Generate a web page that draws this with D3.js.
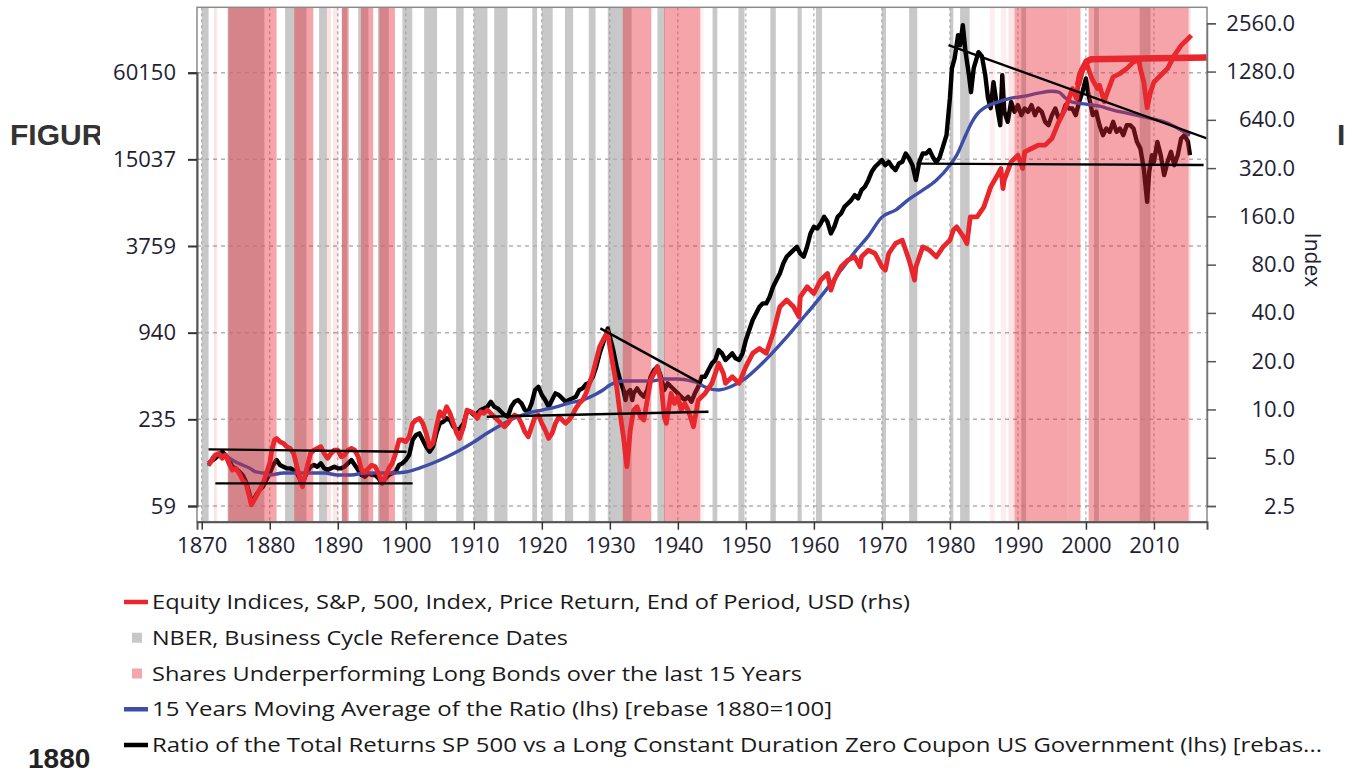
<!DOCTYPE html>
<html><head><meta charset="utf-8">
<script src="https://cdn.jsdelivr.net/npm/d3@7"></script>
<style>body{margin:0;background:#fff;overflow:hidden}</style>
</head><body><svg id="c" width="1360" height="776"></svg>
<script>
// ---------------- DATA ----------------
const decadeTicks = [1870,1880,1890,1900,1910,1920,1930,1940,1950,1960,1970,1980,1990,2000,2010];
const leftTicks = [58.74,234.96,939.8,3759.4,15037.5,60150];
const leftTickLabels = ["59","235","940","3759","15037","60150"];
const rightTicks = [2.5,5,10,20,40,80,160,320,640,1280,2560];
const rightTickLabels = ["2.5","5.0","10.0","20.0","40.0","80.0","160.0","320.0","640.0","1280.0","2560.0"];

// NBER recessions (start, end)
const nberBands = [[1870.0,1871.0],[1873.8,1879.2],[1882.25,1885.4],[1887.25,1888.4],[1890.6,1891.4],[1893.0,1894.5],[1895.9,1897.5],[1899.5,1900.95],[1902.7,1904.6],[1907.4,1908.5],[1910.0,1912.0],[1913.0,1914.95],[1918.6,1919.3],[1920.0,1921.6],[1923.4,1924.6],[1926.9,1927.9],[1929.7,1933.2],[1937.0,1938.1],[1945.1,1945.8],[1948.9,1949.8],[1953.6,1954.4],[1957.6,1958.2],[1960.3,1961.2],[1970.0,1970.6],[1974.0,1975.2],[1980.0,1980.5],[1981.5,1982.9],[1990.5,1991.2],[2001.2,2001.9],[2007.9,2009.5]];

// Shares underperforming long bonds (start, end, strength)
const pinkBands = [[1871.8,1872.2,0.3],[1873.9,1881.0,1],[1883.6,1886.4,1],[1888.4,1889.0,0.3],[1889.3,1890.1,0.25],[1890.6,1891.6,1],[1893.4,1895.2,1],[1896.1,1898.4,1],[1931.9,1936.1,1],[1938.0,1943.3,1],[1943.3,1943.8,0.15],[1985.9,1986.6,0.2],[1987.5,1988.3,0.2],[1988.6,1989.5,0.3],[1989.5,1997.3,1],[1997.3,1999.2,0.95],[2000.4,2015.1,1],[2015.1,2015.4,0.3]];

// S&P 500 price index (rhs)
const sp500 = [[1871,4.50],[1871.5,4.84],[1872,5.20],[1872.5,5.32],[1873,4.96],[1873.5,5.20],[1874,4.61],[1874.5,4.19],[1875,4.29],[1875.5,4.00],[1876,3.63],[1876.5,3.46],[1877,2.86],[1877.3,2.54],[1877.7,2.72],[1878,2.86],[1878.5,3.15],[1879,3.46],[1879.5,4.00],[1880,4.61],[1880.3,5.58],[1880.7,6.45],[1881,6.60],[1881.5,6.29],[1882,6.15],[1882.5,5.86],[1883,5.72],[1883.5,5.32],[1884,4.40],[1884.5,3.63],[1884.8,3.30],[1885,3.63],[1885.5,4.40],[1886,5.32],[1886.5,5.58],[1887,5.72],[1887.5,5.86],[1888,5.32],[1888.5,4.96],[1889,5.32],[1889.5,5.58],[1890,5.58],[1890.5,5.07],[1891,5.20],[1891.5,5.58],[1892,5.72],[1892.5,5.58],[1893,5.07],[1893.5,4.19],[1894,4.09],[1894.5,4.29],[1895,4.50],[1895.5,4.40],[1896,4.00],[1896.5,3.46],[1897,3.81],[1897.5,4.29],[1898,4.61],[1898.5,5.32],[1899,6.45],[1899.5,6.45],[1900,6.29],[1900.5,6.76],[1901,8.19],[1901.5,8.59],[1902,8.80],[1902.5,8.19],[1903,7.09],[1903.5,5.86],[1904,6.15],[1904.5,7.81],[1905,9.68],[1905.5,9.01],[1906,10.40],[1906.5,9.45],[1907,8.19],[1907.5,7.09],[1907.9,6.60],[1908.5,7.81],[1909,9.91],[1909.5,9.68],[1910,9.45],[1910.5,8.80],[1911,9.68],[1911.5,9.45],[1912,9.91],[1912.5,9.45],[1913,9.01],[1913.5,8.59],[1914,8.19],[1914.5,7.81],[1915,8.19],[1915.5,8.80],[1916,9.23],[1916.5,9.01],[1917,8.19],[1917.5,7.26],[1918,6.76],[1918.5,7.81],[1919,9.01],[1919.5,9.23],[1920,8.19],[1920.5,7.44],[1921,6.60],[1921.5,7.09],[1922,8.19],[1922.5,9.01],[1923,8.59],[1923.5,8.19],[1924,8.59],[1924.5,9.23],[1925,10.16],[1925.5,10.91],[1926,11.44],[1926.5,12.59],[1927,14.54],[1927.5,16.78],[1928,20.3],[1928.5,24.6],[1929,27.1],[1929.7,30.5],[1930,24.6],[1930.5,18.5],[1931,13.9],[1931.5,9.45],[1932,6.76],[1932.5,4.40],[1932.7,5.32],[1933,7.44],[1933.5,9.91],[1934,10.40],[1934.5,9.01],[1935,8.59],[1935.5,11.44],[1936,15.2],[1936.5,16.78],[1937,18.5],[1937.5,15.2],[1938,9.01],[1938.3,8.19],[1939,12.59],[1939.5,10.91],[1940,12.0],[1940.5,9.91],[1941,10.91],[1941.5,9.91],[1942,8.59],[1942.3,7.81],[1943,11.44],[1943.5,12.0],[1944,12.59],[1945,14.54],[1945.5,16.78],[1946,19.4],[1946.7,16.78],[1947,14.54],[1948,16.0],[1949,14.54],[1950,18.5],[1951,22.4],[1952,24.0],[1953,22.4],[1954,29.8],[1955,43.7],[1956,48.1],[1957,43.7],[1957.8,37.9],[1958,50.4],[1959,58.2],[1960,52.9],[1961,64.1],[1962,70.5],[1962.5,55.5],[1963,64.1],[1964,77.6],[1965,85.3],[1966,89.5],[1966.8,77.6],[1967,89.5],[1968,98.5],[1969,93.9],[1970,77.6],[1970.5,73.9],[1971,93.9],[1972,108.4],[1973,113.7],[1974,85.3],[1974.8,64.1],[1975,77.6],[1976,103.3],[1977,98.5],[1978,89.5],[1979,103.3],[1980,113.7],[1980.5,131.3],[1981,137.7],[1982,119.3],[1982.5,108.4],[1983,159.0],[1984,159.0],[1985,183.5],[1986,244.4],[1987,290],[1987.5,318],[1987.8,238.7],[1988,270],[1989,350],[1990,385],[1990.7,318],[1991,404],[1992,424],[1993,445],[1994,445],[1995,489],[1996,621],[1997,753],[1998,1002],[1998.6,869],[1999,1214],[2000,1471],[2000.7,1214],[2001,1129],[2001.7,1002],[2002,1051],[2002.7,828],[2003,912],[2004,1186],[2005,1244],[2006,1336],[2007,1471],[2007.8,1506],[2008,1336],[2008.5,1103],[2009,760],[2009.5,956],[2010,1103],[2011,1214],[2012,1336],[2013,1617],[2014,1865],[2015,2052],[2015.5,2153]];

// S&P 500 previous-high plateau (rhs)
const sp500Plateau = [[1998.8,1050],[1999.4,1300],[2000.1,1480],[2000.8,1530],[2017.8,1565]];

// Ratio of total returns S&P 500 vs long zero coupon (lhs, 1880 = 100)
const ratio = [[1871,116.2],[1872,125.9],[1873,140.0],[1873.5,132.8],[1874,122.6],[1874.5,110.2],[1875,107.3],[1875.5,101.7],[1876,96.4],[1876.5,86.7],[1877,71.9],[1877.3,61.3],[1877.7,66.4],[1878,70.0],[1878.5,75.9],[1879,80.0],[1879.5,89.0],[1880,99.0],[1880.5,113.1],[1881,122.6],[1881.5,113.1],[1882,110.2],[1882.5,107.3],[1883,107.3],[1883.5,104.5],[1884,99.0],[1884.5,89.0],[1884.8,82.2],[1885,89.0],[1885.5,101.7],[1886,110.2],[1886.5,113.1],[1887,110.2],[1887.5,116.2],[1888,107.3],[1888.5,104.5],[1889,107.3],[1889.5,110.2],[1890,107.3],[1890.5,107.3],[1891,110.2],[1891.5,116.2],[1892,122.6],[1892.5,113.1],[1893,104.5],[1893.5,96.4],[1894,93.9],[1894.5,99.0],[1895,96.4],[1895.5,96.4],[1896,91.4],[1896.5,84.4],[1897,91.4],[1897.5,96.4],[1898,99.0],[1898.5,101.7],[1899,113.1],[1899.5,116.2],[1900,122.6],[1900.5,132.8],[1901,168.8],[1901.5,182.8],[1902,187.7],[1902.5,168.8],[1903,151.7],[1903.5,140.0],[1904,151.7],[1904.5,187.7],[1905,220.3],[1905.5,226.2],[1906,238.7],[1906.5,232.4],[1907,208.8],[1907.5,198.0],[1908,203.4],[1908.5,220.3],[1909,265.4],[1909.5,265.4],[1910,251.7],[1910.5,258.5],[1911,272.6],[1911.5,280.0],[1912,287.5],[1912.5,311.4],[1913,287.5],[1913.5,280.0],[1914,265.4],[1914.5,251.7],[1915,245.1],[1915.5,287.5],[1916,311.4],[1916.5,319.9],[1917,303.3],[1917.5,272.6],[1918,265.4],[1918.5,303.3],[1919,375.4],[1919.5,395.9],[1920,346.6],[1920.5,319.9],[1921,287.5],[1921.5,319.9],[1922,355.9],[1922.5,346.6],[1923,328.5],[1923.5,311.4],[1924,319.9],[1924.5,328.5],[1925,337.4],[1925.5,375.4],[1926,385.5],[1926.5,413.1],[1927,422.0],[1927.5,464.5],[1928,545.1],[1928.5,674.6],[1929,791.6],[1929.5,928.7],[1929.7,1006],[1930,880.5],[1930.5,711.5],[1931,545.1],[1931.5,440.4],[1932,375.4],[1932.3,319.9],[1932.5,355.9],[1933,375.4],[1933.3,319.9],[1933.5,355.9],[1934,385.5],[1934.5,355.9],[1935,337.4],[1935.5,375.4],[1936,464.5],[1936.5,516.8],[1937,545.1],[1937.5,464.5],[1938,375.4],[1938.5,417.6],[1939,395.9],[1939.5,375.4],[1940,355.9],[1940.5,337.4],[1941,319.9],[1941.5,337.4],[1942,311.4],[1942.5,355.9],[1943,395.9],[1943.5,464.5],[1944,464.5],[1944.5,516.8],[1945,575.0],[1945.5,606.4],[1946,711.5],[1946.5,674.6],[1947,606.4],[1947.5,639.6],[1948,674.6],[1948.5,622.8],[1949,606.4],[1949.5,674.6],[1950,834.9],[1950.5,979.7],[1951,1149.5],[1951.5,1278.9],[1952,1422.7],[1952.5,1500.6],[1953,1500.6],[1953.5,1669.5],[1954,1959],[1954.5,2179],[1955,2424],[1955.5,2845],[1956,3164],[1956.5,3338],[1957,3521],[1957.5,3713],[1958,3338],[1958.5,3164],[1959,3713],[1959.5,4595],[1960,5113],[1960.5,4979],[1961,5393],[1961.5,5999],[1962,5538],[1962.5,4595],[1963,5113],[1963.5,5999],[1964,6328],[1964.5,7039],[1965,7425],[1965.5,7831],[1966,8483],[1966.5,8043],[1967,9189],[1967.5,9692],[1968,10782],[1968.5,12318],[1969,13346],[1969.5,14074],[1970,14844],[1970.5,13704],[1971,14450],[1971.5,13346],[1972,12653],[1972.5,14074],[1973,14450],[1973.5,16512],[1974,15249],[1974.5,13704],[1975,10782],[1975.5,14450],[1976,16512],[1976.5,16512],[1977,17416],[1977.5,15574],[1978,14378],[1978.5,15574],[1979,18564],[1979.5,22139],[1980,40008],[1980.3,64627],[1980.7,75861],[1981.2,109568],[1981.5,93350],[1981.9,128604],[1982.3,83513],[1982.8,57782],[1983.1,44037],[1983.5,64627],[1984.2,83513],[1984.7,78324],[1985.2,57782],[1985.6,40008],[1986,34104],[1986.4,51662],[1986.9,35784],[1987.4,25974],[1987.7,57782],[1988,32160],[1988.5,27390],[1989,37711],[1989.5,32160],[1990,35784],[1990.5,30492],[1991,33940],[1991.5,32160],[1992,35784],[1992.5,30492],[1993,33940],[1993.5,32160],[1994,27390],[1994.5,25974],[1995,30492],[1995.5,33940],[1996,28918],[1996.5,30492],[1997,35784],[1997.5,33940],[1998,33940],[1998.5,30492],[1999,37711],[1999.5,44260],[2000,54822],[2000.3,44260],[2000.7,35784],[2001,30492],[2001.5,32160],[2002,25974],[2002.5,22139],[2003,24641],[2003.5,23343],[2004,27390],[2004.5,23343],[2005,24641],[2005.5,22139],[2006,25974],[2006.5,25974],[2007,24641],[2007.5,19889],[2008,17892],[2008.5,12999],[2009,7619],[2009.3,12312],[2009.7,16083],[2010,14444],[2010.5,19889],[2011,16083],[2011.5,11678],[2012,14444],[2012.5,16952],[2013,13704],[2013.5,16083],[2014,21000],[2014.5,22139],[2015,19889],[2015.3,16083]];

// 15-year moving average of the ratio (lhs)
const ratioMA = [[1871,111.4],[1872,132.8],[1873,132.8],[1874,126.5],[1875,118.7],[1876,113.1],[1877,107.8],[1878,101.2],[1879,99.6],[1880,96.4],[1882,99.6],[1884,99.6],[1886,99.6],[1888,99.6],[1890,96.4],[1892,96.4],[1894,99.6],[1896,99.6],[1898,99.6],[1900,101.2],[1902,107.8],[1904,116.8],[1906,128.6],[1908,143.8],[1910,163.4],[1912,188.7],[1914,214.5],[1916,239.9],[1918,259.9],[1920,272.6],[1922,286.0],[1924,304.9],[1926,319.9],[1928,352.1],[1929,375.4],[1930,406.7],[1931,426.6],[1932,433.4],[1934,433.4],[1936,433.4],[1938,447.5],[1940,447.5],[1942,433.4],[1943,419.8],[1944,393.7],[1946,375.4],[1948,400.1],[1950,454.8],[1952,551.0],[1954,689.2],[1956,875.9],[1958,1131],[1960,1461],[1962,1917],[1964,2557],[1966,3409],[1968,4404],[1970,5967],[1972,6673],[1974,7955],[1976,9189],[1978,10782],[1980,13704],[1981,16083],[1982,20442],[1983,25974],[1984,30979],[1985,34104],[1987,37523],[1989,40008],[1991,41296],[1993,43327],[1995,44731],[1996,44037],[1997,40008],[1998,37523],[2000,36342],[2002,35197],[2004,33030],[2006,31479],[2008,30004],[2010,28595],[2012,26815],[2014,23984],[2015.3,22139]];

// Hand-drawn trend lines (lhs)
const trendLines = [
  [[1871,145.4],[1900.1,140.0]],
  [[1872.0,84.4],[1901.0,84.4]],
  [[1911.9,245.1],[1944.5,265.4]],
  [[1928.6,1006],[1943.4,417.6]],
  [[1975.1,14040],[2017.3,13750]],
  [[1979.8,93350],[2017.8,21000]]
];

const legendItems = [
  {label:"Equity Indices, S&P, 500, Index, Price Return, End of Period, USD (rhs)", kind:"line", color:"#e8262b", w:758},
  {label:"NBER, Business Cycle Reference Dates", kind:"box", color:"#c8c8c8", w:416},
  {label:"Shares Underperforming Long Bonds over the last 15 Years", kind:"box", color:"#f5a6ad", w:650},
  {label:"15 Years Moving Average of the Ratio (lhs) [rebase 1880=100]", kind:"line", color:"#3c4ea8", w:680},
  {label:"Ratio of the Total Returns SP 500 vs a  Long Constant Duration Zero Coupon US Government (lhs) [rebas...", kind:"line", color:"#000000", w:1170}
];

// ---------------- DRAW ----------------
const svg = d3.select("#c");
const P = {l:197, r:1207, t:7.3, b:521.7};
const x = d3.scaleLinear().domain([1869.3, 2017.8]).range([P.l, P.r]);
const yL = d3.scaleLog().domain([58.74, 60150]).range([506, 72.67]);
const yR = d3.scaleLog().domain([2.5, 2560]).range([506, 23.3]);

// background document text (partially hidden behind chart image)
svg.append("text").attr("x",10).attr("y",145).attr("font-family","Liberation Sans, Arial, sans-serif")
  .attr("font-weight","bold").attr("font-size",30).attr("fill","#333").text("FIGURE");
svg.append("rect").attr("x",100).attr("y",0).attr("width",1236).attr("height",776).attr("fill","#fff");
svg.append("text").attr("x",1337).attr("y",145).attr("font-family","Liberation Sans, Arial, sans-serif")
  .attr("font-weight","bold").attr("font-size",30).attr("fill","#333").text("I");
svg.append("text").attr("x",28).attr("y",768).attr("font-family","Liberation Sans, Arial, sans-serif")
  .attr("font-weight","bold").attr("font-size",28).attr("fill","#222").text("1880");

svg.append("defs").append("clipPath").attr("id","pc").append("rect")
  .attr("x",P.l).attr("y",P.t).attr("width",P.r-P.l).attr("height",P.b-P.t);

const plot = svg.append("g").attr("clip-path","url(#pc)");

// NBER bands
plot.selectAll("rect.nber").data(nberBands).join("rect").attr("class","nber")
  .attr("x",d=>x(d[0])).attr("width",d=>x(d[1])-x(d[0]))
  .attr("y",P.t).attr("height",P.b-P.t).attr("fill","#c8c8c8");

// gridlines
plot.selectAll("line.hg").data(leftTicks).join("line").attr("class","hg")
  .attr("x1",P.l).attr("x2",P.r).attr("y1",d=>yL(d)).attr("y2",d=>yL(d))
  .attr("stroke","#b0b0b0").attr("stroke-width",1.5).attr("stroke-dasharray","4,4");
plot.selectAll("line.vg").data(decadeTicks).join("line").attr("class","vg")
  .attr("y1",P.t).attr("y2",P.b).attr("x1",d=>x(d)).attr("x2",d=>x(d))
  .attr("stroke","#9a9a9a").attr("stroke-width",1).attr("stroke-dasharray","3,3");

// series
const lineL = d3.line().x(d=>x(d[0])).y(d=>yL(d[1]));
const lineLsmooth = d3.line().x(d=>x(d[0])).y(d=>yL(d[1])).curve(d3.curveMonotoneX);
const lineR = d3.line().x(d=>x(d[0])).y(d=>yR(d[1]));
plot.append("path").datum(ratio).attr("d",lineL).attr("fill","none").attr("stroke","#000").attr("stroke-width",4.4).attr("stroke-linejoin","round");
plot.append("path").datum(ratioMA).attr("d",lineLsmooth).attr("fill","none").attr("stroke","#3c4ea8").attr("stroke-width",3.4);
plot.append("path").datum(sp500).attr("d",lineR).attr("fill","none").attr("stroke","#e8262b").attr("stroke-width",4.8).attr("stroke-linejoin","round");
plot.append("path").datum(sp500Plateau).attr("d",lineR).attr("fill","none").attr("stroke","#e8262b").attr("stroke-width",6.5).attr("stroke-linejoin","round");

// pink overlay bands
plot.selectAll("rect.pink").data(pinkBands).join("rect").attr("class","pink")
  .attr("x",d=>x(d[0])).attr("width",d=>x(d[1])-x(d[0]))
  .attr("y",P.t).attr("height",P.b-P.t).attr("fill","rgb(230,40,50)").attr("fill-opacity",d=>0.42*d[2]);

// trend lines
plot.selectAll("path.trend").data(trendLines).join("path").attr("class","trend")
  .attr("d",lineL).attr("fill","none").attr("stroke","#000").attr("stroke-width",2.4);

// frame
svg.append("rect").attr("x",P.l).attr("y",P.t).attr("width",P.r-P.l).attr("height",P.b-P.t)
  .attr("fill","none").attr("stroke","#8a8a8a").attr("stroke-width",1.5);

const axFont = "'Open Sans', 'Noto Sans', sans-serif";
// left axis
const gl = svg.append("g").attr("transform",`translate(${P.l},0)`)
  .call(d3.axisLeft(yL).tickValues(leftTicks).tickFormat((d,i)=>leftTickLabels[i]).tickSize(9).tickPadding(12));
gl.select(".domain").attr("stroke","#555").attr("stroke-width",2);
gl.selectAll(".tick line").attr("stroke","#333").attr("stroke-width",2);
gl.selectAll("text").attr("font-family",axFont).attr("font-size",22).attr("fill","#1e1e34");

// right axis
const gr = svg.append("g").attr("transform",`translate(${P.r},0)`)
  .call(d3.axisRight(yR).tickValues(rightTicks).tickFormat((d,i)=>rightTickLabels[i]).tickSize(9));
gr.select(".domain").attr("stroke","#777").attr("stroke-width",1.5);
gr.selectAll(".tick line").attr("stroke","#555").attr("stroke-width",1.5);
gr.selectAll("text").attr("font-family",axFont).attr("font-size",22).attr("fill","#1e1e34")
  .attr("text-anchor","end").attr("x",88);

// bottom axis
const gb = svg.append("g").attr("transform",`translate(0,${P.b})`)
  .call(d3.axisBottom(x).tickValues(decadeTicks).tickFormat(d3.format("d")).tickSize(8));
gb.select(".domain").attr("stroke","#555").attr("stroke-width",2);
gb.selectAll(".tick line").attr("stroke","#333").attr("stroke-width",1.5);
gb.selectAll("text").attr("font-family",axFont).attr("font-size",22).attr("fill","#1e1e34")
  .attr("dy",null).attr("y",31.5);

// right axis title
svg.append("text").attr("transform","translate(1305,260) rotate(90)").attr("text-anchor","middle")
  .attr("font-family",axFont).attr("font-size",21).attr("fill","#1e1e34").text("Index");

// legend
const lg = svg.append("g");
const rowY = d3.scalePoint().domain(d3.range(legendItems.length)).range([602,745]);
legendItems.forEach((it,i)=>{
  const cy = rowY(i);
  if(it.kind==="line"){
    lg.append("line").attr("x1",124).attr("x2",148).attr("y1",cy).attr("y2",cy)
      .attr("stroke",it.color).attr("stroke-width",4.5);
  } else {
    lg.append("rect").attr("x",132).attr("y",cy-5).attr("width",10).attr("height",10).attr("fill",it.color);
  }
  lg.append("text").attr("x",152).attr("y",cy+7).attr("font-family",axFont).attr("font-size",20)
    .attr("fill","#1a1a1a").attr("textLength",it.w).attr("lengthAdjust","spacingAndGlyphs").text(it.label);
});
</script></body></html>
